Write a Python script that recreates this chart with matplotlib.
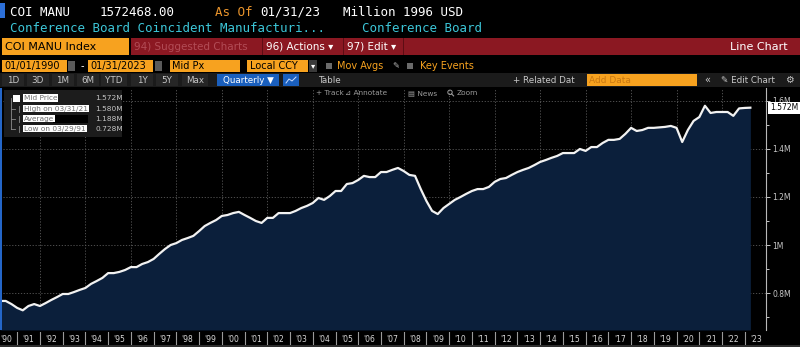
import pandas as pd
import matplotlib.pyplot as plt
from matplotlib.patches import Rectangle, Circle
from matplotlib.transforms import blended_transform_factory

plt.rcParams['font.family'] = ['DejaVu Sans']

# COI MANU Index, quarterly, 1990Q1 .. 2023Q1 (millions of million 1996 USD -> "M")
quarters = pd.period_range('1990Q1', '2023Q1', freq='Q').to_timestamp(how='end')
values = [
    0.767, 0.767, 0.754, 0.738,  # 1990
    0.728, 0.746, 0.754, 0.746,  # 1991
    0.758, 0.771, 0.783, 0.796,  # 1992
    0.796, 0.804, 0.813, 0.821,  # 1993
    0.838, 0.850, 0.863, 0.883,  # 1994
    0.883, 0.888, 0.896, 0.908,  # 1995
    0.908, 0.921, 0.929, 0.942,  # 1996
    0.963, 0.983, 1.000, 1.008,  # 1997
    1.021, 1.029, 1.038, 1.058,  # 1998
    1.079, 1.092, 1.104, 1.121,  # 1999
    1.125, 1.133, 1.138, 1.125,  # 2000
    1.113, 1.100, 1.092, 1.113,  # 2001
    1.113, 1.133, 1.133, 1.133,  # 2002
    1.142, 1.154, 1.163, 1.175,  # 2003
    1.196, 1.188, 1.204, 1.225,  # 2004
    1.225, 1.254, 1.258, 1.271,  # 2005
    1.288, 1.283, 1.283, 1.304,  # 2006
    1.304, 1.313, 1.321, 1.308,  # 2007
    1.292, 1.288, 1.233, 1.183,  # 2008
    1.142, 1.129, 1.154, 1.171,  # 2009
    1.188, 1.200, 1.213, 1.225,  # 2010
    1.233, 1.233, 1.242, 1.263,  # 2011
    1.275, 1.279, 1.292, 1.304,  # 2012
    1.313, 1.321, 1.333, 1.346,  # 2013
    1.354, 1.363, 1.371, 1.383,  # 2014
    1.383, 1.383, 1.400, 1.392,  # 2015
    1.408, 1.408, 1.425, 1.438,  # 2016
    1.438, 1.442, 1.463, 1.488,  # 2017
    1.475, 1.479, 1.488, 1.488,  # 2018
    1.490, 1.492, 1.496, 1.488,  # 2019
    1.429, 1.479, 1.517, 1.533,  # 2020
    1.580, 1.550, 1.554, 1.554,  # 2021
    1.554, 1.538, 1.569, 1.571,  # 2022
    1.572,                       # 2023
]
years = list(range(1990, 2024))
y_ticks = [0.8, 1.0, 1.2, 1.4, 1.6]
y_minor = [0.7, 0.9, 1.1, 1.3, 1.5]
y_labels = ['0.8M', '1M', '1.2M', '1.4M', '1.6M']
legend_rows = ['Mid Price', 'High on 03/31/21', 'Average', 'Low on 03/29/91']
legend_vals = ['1.572M', '1.580M', '1.188M', '0.728M']
last_label = '1.572M'

ORANGE = '#f7a21f'
RED = '#8b1822'
GREY_TXT = '#c8c8c8'
NAVY = '#0b1f3b'

fig = plt.figure(figsize=(8, 3.47), dpi=100, facecolor='black')
W, H = 800, 347

# ---- main chart ----
ax = fig.add_axes([0, (H - 330) / H, 766 / W, (330 - 88) / H], facecolor='black')
x0, x1 = pd.Timestamp('1990-03-31'), pd.Timestamp('2023-12-08')
ymin, ymax = 0.646, 1.654
ax.fill_between(quarters, values, ymin, color=NAVY, lw=0, zorder=2)
ax.plot(quarters, values, color='#f2f2f2', lw=1.6, zorder=3)
ax.set_xlim(x0, x1)
ax.set_ylim(ymin, ymax)

ax.set_xticks([pd.Timestamp(f'{y}-01-01') for y in years if y % 2 == 0 and y > 1990])
ax.tick_params(axis='x', length=0, labelbottom=False)
ax.grid(axis='x', ls=(0, (1.5, 2)), color='#5a5a5a', lw=0.6, zorder=4)

ax.yaxis.tick_right()
ax.set_yticks(y_ticks)
ax.set_yticklabels(y_labels)
ax.set_yticks(y_minor, minor=True)
ax.tick_params(axis='y', which='major', colors=GREY_TXT, labelsize=5.5, length=3, width=0.7, pad=1.5)
ax.tick_params(axis='y', which='minor', colors=GREY_TXT, length=2, width=0.7)
ax.grid(axis='y', which='major', ls=(0, (1.5, 2)), color='#5a5a5a', lw=0.6, zorder=4)
for side in ['left', 'top', 'bottom']:
    ax.spines[side].set_visible(False)
ax.spines['right'].set_color('#b8b8b8')
ax.spines['right'].set_linewidth(0.8)

# last value marker sits over the 1.6M label, as in the terminal
trans = blended_transform_factory(ax.transAxes, ax.transData)
ax.text(1.005, values[-1], last_label, transform=trans, ha='left', va='center',
        fontsize=5.5, color='black', clip_on=False, zorder=20,
        bbox=dict(boxstyle='square,pad=0.2', fc='white', ec='none'))

# ---- year strip ----
sx = fig.add_axes([0, 2 / H, 766 / W, 13 / H], facecolor='black')
sx.set_xlim(x0, x1)
sx.set_ylim(0, 1)
sx.axis('off')
for y in years[1:]:
    sx.axvline(pd.Timestamp(f'{y}-01-01'), color='#9a9a9a', lw=0.8)
for y in years:
    sx.text(pd.Timestamp(f'{y}-07-01'), 0.45, f"'{y % 100:02d}", ha='center', va='center',
            fontsize=5.5, color='#d8d8d8', clip_on=True)

# ---- overlay (header, toolbar, legend) ----
ov = fig.add_axes([0, 0, 1, 1], zorder=10)
ov.set_xlim(0, W)
ov.set_ylim(H, 0)
ov.axis('off')


def box(xa, ya, xb, yb, color):
    ov.add_patch(Rectangle((xa, ya), xb - xa, yb - ya, color=color, lw=0))


def txt(x, y, s, color, size, ha='left', family='DejaVu Sans', **kw):
    ov.text(x, y, s, color=color, fontsize=size, ha=ha, va='center', family=family, **kw)


MONO = 'DejaVu Sans Mono'
# row 1 and 2
box(0, 3, 5, 18, '#2c6fd8')
txt(10, 12, 'COI MANU', 'white', 9, family=MONO)
txt(100, 12, '1572468.00', 'white', 9, family=MONO)
txt(215, 12, 'As Of', '#e9942c', 9, family=MONO)
txt(260, 12, '01/31/23', 'white', 9, family=MONO)
txt(343, 12, 'Million 1996 USD', 'white', 9, family=MONO)
txt(10, 28, 'Conference Board Coincident Manufacturi...', '#3cc6d8', 9, family=MONO)
txt(362, 28, 'Conference Board', '#3cc6d8', 9, family=MONO)

# row 3
box(2, 38, 129, 55, ORANGE)
txt(5, 46.5, 'COI MANU Index', 'black', 8)
box(131, 38, 800, 55, RED)
for xs in [262, 343, 403]:
    box(xs, 38, xs + 1.2, 55, '#5e0d14')
txt(134, 46.5, '94) Suggested Charts', '#b24c56', 7.5)
txt(266, 46.5, '96) Actions ▾', 'white', 7.5)
txt(347, 46.5, '97) Edit ▾', 'white', 7.5)
txt(788, 46.5, 'Line Chart', 'white', 8, ha='right')

# row 4
box(2, 60, 67, 72, ORANGE)
txt(4, 66, '01/01/1990', 'black', 7)
box(68, 61, 75, 71, '#5a5a5a')
txt(82, 66, '-', 'white', 7, ha='center')
box(88, 60, 153, 72, ORANGE)
txt(90, 66, '01/31/2023', 'black', 7)
box(155, 61, 162, 71, '#5a5a5a')
box(170, 60, 240, 72, ORANGE)
txt(172, 66, 'Mid Px', 'black', 7)
box(247, 60, 308, 72, ORANGE)
txt(250, 66, 'Local CCY', 'black', 7)
box(309, 60, 317, 72, '#3a3a3a')
txt(313, 66, '▾', 'white', 6, ha='center')
box(326, 63, 332, 69, '#6a6a6a')
txt(337, 66, 'Mov Avgs', ORANGE, 7)
txt(396, 66, '✎', '#bbbbbb', 6, ha='center')
box(407, 63, 413, 69, '#6a6a6a')
txt(420, 66, 'Key Events', ORANGE, 7)

# row 5
box(0, 73, 800, 86.5, '#1b1b1b')
for lbl, xc, w in [('1D', 13, 22), ('3D', 38, 22), ('1M', 63, 22), ('6M', 88, 22),
                   ('YTD', 114, 26), ('1Y', 142, 22), ('5Y', 167, 22), ('Max', 195, 26)]:
    box(xc - w / 2, 73.5, xc + w / 2, 86, '#262626')
    txt(xc, 80, lbl, GREY_TXT, 6.3, ha='center')
box(217, 73.5, 279, 86, '#1a5fbd')
txt(248, 80, 'Quarterly ▼', 'white', 6.3, ha='center')
box(283, 73.5, 299, 86, '#1a5fbd')
ov.plot([286, 289, 292, 296], [83, 79, 81, 77], color='#cfe0ff', lw=0.7)
txt(329, 80, 'Table', GREY_TXT, 6.3, ha='center')
txt(513, 80, '+ Related Dat', GREY_TXT, 6.3)
box(587, 74, 697, 85.5, ORANGE)
txt(589, 80, 'Add Data', '#c97812', 6.5)
txt(707, 80, '«', GREY_TXT, 7, ha='center')
txt(721, 80, '✎ Edit Chart', GREY_TXT, 6.3)
txt(789, 80, '⚙', GREY_TXT, 7, ha='center')

# chart toolbar
txt(316, 93, '+ Track', '#9a9a9a', 5.3)
txt(345, 93, '⊿ Annotate', '#9a9a9a', 5.3)
txt(408, 93, '▤ News', '#9a9a9a', 5.3)
# magnifier icon drawn as a shape
ov.add_patch(Circle((450, 92.3), 2.2, fill=False, ec='#9a9a9a', lw=0.7))
ov.plot([451.6, 453.6], [93.9, 95.9], color='#9a9a9a', lw=0.8)
txt(457, 93, 'Zoom', '#9a9a9a', 5.3)

# left edge marker
box(0, 88, 1.6, 330, '#2466c8')
box(0, 345, 800, 347, '#2e2e2e')

# legend panel
box(4, 90, 122, 137, '#1c1c1c')
rows_y = [98, 108.5, 118.5, 128.5]
ov.plot([10.5, 10.5], [98, 128.5], color='#8a8a8a', lw=0.6)
box(13, 95, 20, 101.5, 'white')
for ry in rows_y[1:]:
    ov.plot([10.5, 15], [ry, ry], color='#8a8a8a', lw=0.6)
    ov.plot([18.5, 18.5], [ry - 3, ry + 3], color='#8a8a8a', lw=0.6)
for lbl, val, ry in zip(legend_rows, legend_vals, rows_y):
    ov.text(24, ry, lbl, color='#6e6e6e', fontsize=5.3, ha='left', va='center',
            bbox=dict(boxstyle='square,pad=0.12', fc='white', ec='none'))
    txt(95, ry, val, '#c4c4c4', 5.3)
box(53, rows_y[2] - 4, 88, rows_y[2] + 4, 'black')

fig.savefig('out.png', dpi=100, facecolor='black')
